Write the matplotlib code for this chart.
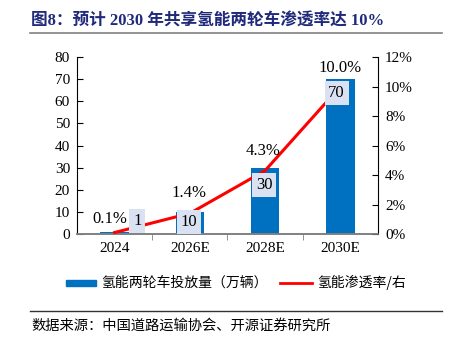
import matplotlib.pyplot as plt
import matplotlib.patches as mpatches
import matplotlib.lines as mlines
import numpy as np

plt.rcParams['font.family'] = ['Liberation Serif', 'Noto Sans CJK SC']

years = ['2024', '2026E', '2028E', '2030E']
fleet = [1, 10, 30, 70]            # 万辆
penetration = [0.1, 1.4, 4.3, 10.0]  # %

blue = '#0070C0'
red = '#FF0000'
navy = '#1F2A7A'
cjk = ['Noto Sans CJK SC', 'DejaVu Sans']

fig = plt.figure(figsize=(4.57, 3.48), dpi=100)
ax = fig.add_axes([0.1685, 0.3276, 0.6585, 0.5084])
ax2 = ax.twinx()

x = np.arange(len(years))
ax.bar(x, fleet, width=0.38, color=blue, zorder=2)
ax.set_ylim(0, 80)
ax.set_yticks(range(0, 81, 10))
ax.set_xlim(-0.5, 3.5)
ax.set_xticks(x)
ax.set_xticklabels(years)
ax.set_xticks([0.5, 1.5, 2.5], minor=True)
ax.tick_params(axis='x', which='major', length=0, labelsize=11, pad=6)
ax.tick_params(axis='x', which='minor', length=4, color='#808080', direction='out')
ax.tick_params(axis='y', direction='in', length=4, labelsize=11, pad=5)

ax2.plot(x, penetration, color=red, lw=2.2, zorder=3)
ax2.set_ylim(0, 12)
ax2.set_yticks(range(0, 13, 2))
ax2.set_yticklabels([f'{v}%' for v in range(0, 13, 2)])
ax2.tick_params(axis='y', direction='in', length=4, labelsize=11, pad=5)

for a in (ax, ax2):
    a.spines['top'].set_visible(False)
    a.spines['bottom'].set_color('#808080')
    a.spines['bottom'].set_linewidth(1.2)
ax.spines['right'].set_visible(False)
ax2.spines['left'].set_visible(False)

# boxed fleet values, drawn over the red line
box_pos = [(0.30, 5.9), (0.99, 5.4), (1.99, 22.1), (2.95, 63.7)]
for (bx, by), v in zip(box_pos, fleet):
    ax2.text(bx, by, str(v), transform=ax.transData, ha='center', va='center',
             fontsize=12, zorder=5,
             bbox=dict(boxstyle='square,pad=0.22', fc='#D9E1F2', ec='none'))

# penetration labels
lab_pos = [(-0.07, 1.05), (0.99, 2.75), (1.97, 5.6), (2.99, 11.25)]
for (lx, ly), v in zip(lab_pos, penetration):
    ax2.text(lx, ly, f'{v:.1f}%', ha='center', va='center', fontsize=12)

# title and rules
fig.text(0.068, 0.937, '图8：预计 2030 年共享氢能两轮车渗透率达 10%', fontsize=12,
         fontweight='bold', color=navy,
         family=['Liberation Serif', 'Noto Sans CJK SC'], va='center')
fig.add_artist(mlines.Line2D([0.066, 0.967], [0.905, 0.905], color='#808080', lw=1.2))

# legend
fig.add_artist(mpatches.Rectangle((0.145, 0.177), 0.066, 0.018, color=blue,
                                  transform=fig.transFigure))
fig.text(0.222, 0.187, '氢能两轮车投放量（万辆）', fontsize=10, family=cjk, va='center')
fig.add_artist(mlines.Line2D([0.613, 0.683], [0.187, 0.187], color=red, lw=2))
fig.text(0.694, 0.187, '氢能渗透率/右', fontsize=10, family=cjk, va='center')

fig.add_artist(mlines.Line2D([0.066, 0.967], [0.106, 0.106], color='#333333', lw=1))
fig.text(0.068, 0.065, '数据来源：中国道路运输协会、开源证券研究所', fontsize=10.3,
         family=cjk, va='center')

fig.savefig('out.png', dpi=100)
